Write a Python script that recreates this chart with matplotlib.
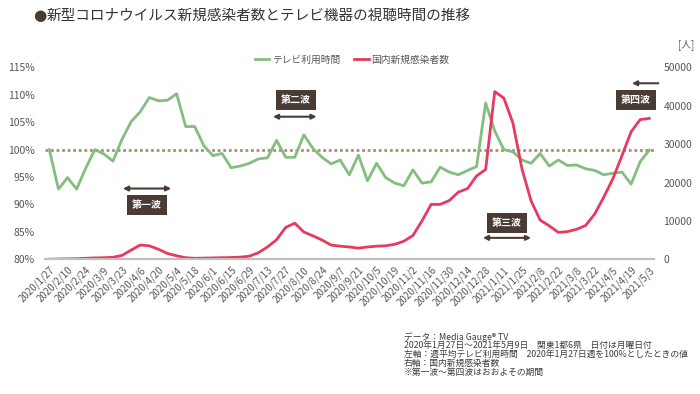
import matplotlib
matplotlib.use("Agg")
import matplotlib.pyplot as plt

plt.rcParams["font.family"] = ["Noto Sans CJK JP", "DejaVu Sans"]

# 週次データ (2020/1/27 週 〜 2021/5/3 週)
tv_ratio = [
    100.0, 92.8, 94.9, 92.8, 96.6, 100.0, 99.2, 97.9, 101.9, 105.1,
    106.9, 109.5, 108.9, 109.0, 110.2, 104.2, 104.2, 100.7, 98.9, 99.3,
    96.7, 97.0, 97.5, 98.3, 98.5, 101.7, 98.6, 98.6, 102.7, 100.2,
    98.6, 97.4, 98.1, 95.4, 99.0, 94.3, 97.5, 94.9, 93.9, 93.4,
    96.3, 93.9, 94.1, 96.8, 95.9, 95.4, 96.2, 96.9, 108.5, 103.4,
    100.0, 99.6, 98.1, 97.5, 99.3, 97.0, 98.1, 97.1, 97.2, 96.5,
    96.2, 95.4, 95.7, 95.9, 93.7, 97.8, 99.9,
]
new_cases = [
    10, 50, 100, 150, 250, 350, 400, 500, 1000, 2400,
    3700, 3500, 2600, 1500, 900, 400, 250, 300, 350, 400,
    450, 550, 800, 1700, 3200, 5100, 8300, 9400, 7100, 6100,
    5000, 3700, 3400, 3200, 2900, 3200, 3400, 3500, 3900, 4700,
    6200, 10000, 14300, 14300, 15300, 17500, 18400, 21700, 23400, 43700,
    42000, 35500, 23500, 15200, 10200, 8700, 7000, 7200, 7800, 8800,
    11800, 16200, 21000, 27000, 33200, 36400, 36700,
]
week_labels = [
    "2020/1/27", "2020/2/10", "2020/2/24", "2020/3/9", "2020/3/23",
    "2020/4/6", "2020/4/20", "2020/5/4", "2020/5/18", "2020/6/1",
    "2020/6/15", "2020/6/29", "2020/7/13", "2020/7/27", "2020/8/10",
    "2020/8/24", "2020/9/7", "2020/9/21", "2020/10/5", "2020/10/19",
    "2020/11/2", "2020/11/16", "2020/11/30", "2020/12/14", "2020/12/28",
    "2021/1/11", "2021/1/25", "2021/2/8", "2021/2/22", "2021/3/8",
    "2021/3/22", "2021/4/5", "2021/4/19", "2021/5/3",
]
left_ticks = [80, 85, 90, 95, 100, 105, 110, 115]
right_ticks = [0, 10000, 20000, 30000, 40000, 50000]

GREEN = "#84be7f"
RED = "#e63a5e"
BROWN = "#4a3b35"
TXT = "#595757"

weeks = list(range(len(tv_ratio)))

fig = plt.figure(figsize=(7.0, 3.94), dpi=100)
ax = fig.add_axes([0.064, 0.342, 0.870, 0.487])
ax2 = ax.twinx()

ax.axhline(100, color="#a88f70", lw=2.0, linestyle=(0, (1, 1)), zorder=1)
l1, = ax.plot(weeks, tv_ratio, color=GREEN, lw=2.0, label="テレビ利用時間", zorder=2)
l2, = ax2.plot(weeks, new_cases, color=RED, lw=2.0, label="国内新規感染者数")

ax.set_xlim(-0.5, 66.5)
ax.set_ylim(80, 115)
ax2.set_ylim(0, 50000)
ax.set_yticks(left_ticks)
ax.set_yticklabels([f"{v}%" for v in left_ticks])
ax2.set_yticks(right_ticks)
ax2.set_yticklabels([str(v) for v in right_ticks])
ax.set_xticks(weeks[::2])
ax.set_xticklabels(week_labels, rotation=45, ha="right", rotation_mode="anchor")

ax.tick_params(axis="x", length=0, pad=4, labelsize=7, labelcolor=TXT)
ax.tick_params(axis="y", length=0, pad=7.5, labelsize=7.5, labelcolor=TXT)
ax2.tick_params(axis="y", length=0, pad=7, labelsize=7.5, labelcolor=TXT)

for a in (ax, ax2):
    for side in ("top", "left", "right"):
        a.spines[side].set_visible(False)
    a.spines["bottom"].set_color("#bfbfbf")
    a.spines["bottom"].set_linewidth(1.5)

# 波の注記
waves = [
    ("第一波", 10.7, 89.9, (8.1, 13.4, 92.9), "<|-|>"),
    ("第二波", 27.1, 109.0, (24.6, 29.4, 106.0), "<|-|>"),
    ("第三波", 50.3, 86.6, (47.7, 53.0, 83.9), "<|-|>"),
    ("第四波", 64.5, 109.0, (67.0, 64.1, 112.1), "-|>"),
]
for name, bx, by, (x0, x1, ay), style in waves:
    ax.text(bx, by, name, ha="center", va="center", color="white",
            fontsize=7.2, fontweight="bold", zorder=5,
            bbox=dict(boxstyle="square,pad=0.5", fc=BROWN, ec="none"))
    ax.annotate("", xy=(x1, ay), xytext=(x0, ay), annotation_clip=False,
                arrowprops=dict(arrowstyle=style, color=BROWN, lw=1.5,
                                mutation_scale=7, shrinkA=0, shrinkB=0))

fig.legend(handles=[l1, l2], loc="center", bbox_to_anchor=(0.503, 0.848),
           ncol=2, frameon=False, fontsize=7, handlelength=1.5,
           handletextpad=0.3, columnspacing=1.4, labelcolor=TXT)

fig.text(686 / 700, 1 - 45 / 394, "[人]", ha="center", va="center",
         fontsize=7, color=TXT)

fig.text(40 / 700, 1 - 16 / 394, "●", ha="center", va="center",
         fontsize=11, color=BROWN, family=["DejaVu Sans"])
fig.text(47 / 700, 1 - 16 / 394, "新型コロナウイルス新規感染者数とテレビ機器の視聴時間の推移",
         ha="left", va="center", fontsize=10.5, color="#333333")

notes = [
    "データ：Media Gauge® TV",
    "2020年1月27日〜2021年5月9日　関東1都6県　日付は月曜日付",
    "左軸：週平均テレビ利用時間　2020年1月27日週を100%としたときの値",
    "右軸：国内新規感染者数",
    "※第一波〜第四波はおおよその期間",
]
for k, line in enumerate(notes):
    fig.text(404 / 700, 1 - (337 + 8.8 * k) / 394, line, ha="left",
             va="center", fontsize=6.3, color="#3c3c3c")

fig.savefig("out.png", dpi=100)
